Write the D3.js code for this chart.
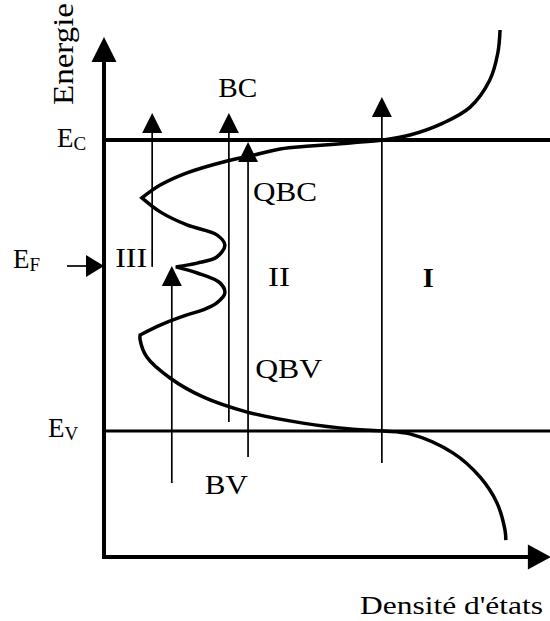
<!DOCTYPE html>
<html>
<head>
<meta charset="utf-8">
<script src="https://cdn.jsdelivr.net/npm/d3@7"></script>
<style>
    body { margin: 0; background: #fff; }
    text { font-family: "Liberation Serif", "Times New Roman", serif; fill: #000; }
</style>
</head>
<body>
<div id="diagram"></div>
<script>
// density of states, split at the sharp cusps: [density, energy] with Ev = 0, Ec = 1
const conductionBranch = [
    [88.8, 1.378], [88.3, 1.299], [86.5, 1.206], [82.1, 1.113], [76.0, 1.058],
    [68.6, 1.017], [62.6, 1.000], [55.2, 0.990], [46.2, 0.979], [39.5, 0.969],
    [32.7, 0.945], [27.6, 0.928], [18.6, 0.887], [12.6, 0.845], [8.5, 0.801]
];
const gapBranchUpper = [
    [8.5, 0.801], [12.6, 0.753], [18.6, 0.708], [25.3, 0.674], [27.1, 0.639],
    [25.3, 0.598], [20.9, 0.577], [16.1, 0.564]
];
const gapBranchLower = [
    [16.1, 0.564], [20.9, 0.543], [26.0, 0.509], [27.1, 0.474], [25.3, 0.440],
    [22.2, 0.416], [18.6, 0.399], [12.6, 0.364], [8.1, 0.330]
];
const valenceBranch = [
    [8.1, 0.330], [8.1, 0.313], [9.6, 0.254], [14.8, 0.182], [22.2, 0.117],
    [32.1, 0.065], [44.6, 0.027], [55.8, 0.006], [62.6, 0.000], [68.6, -0.010],
    [78.3, -0.076], [84.3, -0.158], [88.1, -0.247], [89.9, -0.340], [90.1, -0.375]
];

// energy levels
const levelNames = ['C', 'F', 'V'];
const levelEnergies = [1, 0.567, 0];

// vertical transition arrows: density, start energy, end energy
const arrowDensity = [10.8, 28.0, 32.3, 15.2, 62.3];
const arrowFrom = [0.564, 0.031, -0.089, -0.179, -0.110];
const arrowTo = [1.093, 1.093, 0.993, 0.567, 1.148];

// region / band labels
const bandLabels = ['BC', 'QBC', 'QBV', 'BV', 'III', 'II', 'I'];
const bandDensity = [25.6, 33.4, 33.9, 22.6, 2.5, 36.8, 71.5];
const bandEnergy = [1.148, 0.790, 0.182, -0.216, 0.564, 0.498, 0.495];

const axisTitles = { x: 'Densité d\'états', y: 'Energie' };

class DosDiagram {

    constructor(_config) {
        this.config = {
            parentElement: _config.parentElement,
            containerWidth: _config.containerWidth || 550,
            containerHeight: _config.containerHeight || 621
        };
        this.initVis();
    }

    initVis() {
        let vis = this;

        vis.svg = d3.select(vis.config.parentElement)
            .append('svg')
            .attr('width', vis.config.containerWidth)
            .attr('height', vis.config.containerHeight);

        vis.xScale = d3.scaleLinear().domain([0, 100]).range([104, 550]);
        vis.yScale = d3.scaleLinear().domain([0, 1]).range([431, 140]);

        vis.xMin = 0;
        vis.xMax = 100.2;
        vis.yMin = -0.433;
        vis.yMax = 1.354;

        vis.renderVis();
    }

    // triangle with its tip at (x, y), pointing up or right
    head(x, y, dir, len, half) {
        if (dir === 'up') return `${x},${y} ${x - half},${y + len} ${x + half},${y + len}`;
        return `${x},${y} ${x - len},${y - half} ${x - len},${y + half}`;
    }

    renderVis() {
        let vis = this;
        const x = vis.xScale, y = vis.yScale;

        // energy levels Ec and Ev
        vis.svg.selectAll('.level')
            .data([1, 0])
            .join('line')
            .attr('class', 'level')
            .attr('x1', x(vis.xMin))
            .attr('x2', x(100))
            .attr('y1', d => y(d))
            .attr('y2', d => y(d))
            .attr('stroke', '#000')
            .attr('stroke-width', d => d === 1 ? 4 : 3);

        // axes
        const corner = [x(vis.xMin), y(vis.yMin)];
        vis.svg.append('line')
            .attr('x1', corner[0]).attr('y1', corner[1])
            .attr('x2', corner[0]).attr('y2', y(vis.yMax) + 20)
            .attr('stroke', '#000').attr('stroke-width', 4).attr('stroke-linecap', 'square');
        vis.svg.append('polygon')
            .attr('points', vis.head(corner[0], y(vis.yMax), 'up', 25, 12.5));
        vis.svg.append('line')
            .attr('x1', corner[0]).attr('y1', corner[1])
            .attr('x2', x(vis.xMax) - 20).attr('y2', corner[1])
            .attr('stroke', '#000').attr('stroke-width', 4).attr('stroke-linecap', 'square');
        vis.svg.append('polygon')
            .attr('points', vis.head(x(vis.xMax), corner[1], 'right', 23, 12.5));

        // density of states curve
        const line = d3.line()
            .x(d => x(d[0]))
            .y(d => y(d[1]))
            .curve(d3.curveCatmullRom.alpha(0.5));
        const branches = [conductionBranch, gapBranchUpper, gapBranchLower, valenceBranch];
        const pathD = branches.map((b, i) => i === 0 ? line(b) : line(b).replace(/^M/, 'L')).join('');
        vis.svg.append('path')
            .attr('d', pathD)
            .attr('fill', 'none')
            .attr('stroke', '#000')
            .attr('stroke-width', 3.5)
            .attr('stroke-linejoin', 'miter');

        // vertical arrows
        const arrows = arrowDensity.map((d, i) => ({ d: d, from: arrowFrom[i], to: arrowTo[i] }));
        const arrowG = vis.svg.selectAll('.arrow')
            .data(arrows)
            .join('g')
            .attr('class', 'arrow');
        arrowG.append('line')
            .attr('x1', d => x(d.d)).attr('x2', d => x(d.d))
            .attr('y1', d => y(d.from)).attr('y2', d => y(d.to) + 10)
            .attr('stroke', '#000').attr('stroke-width', 1.7);
        arrowG.append('polygon')
            .attr('points', d => vis.head(x(d.d), y(d.to), 'up', 20, 10));

        // Fermi level marker
        const yF = y(levelEnergies[1]);
        vis.svg.append('line')
            .attr('x1', 67).attr('x2', corner[0] - 10)
            .attr('y1', yF).attr('y2', yF)
            .attr('stroke', '#000').attr('stroke-width', 1.7);
        vis.svg.append('polygon')
            .attr('points', vis.head(corner[0], yF, 'right', 18, 11));

        // level labels E_C, E_F, E_V
        const levelX = [57, 13, 48];
        const levelDy = [7, 2, 6];
        levelNames.forEach((n, i) => {
            const t = vis.svg.append('text')
                .attr('x', levelX[i])
                .attr('y', y(levelEnergies[i]) + levelDy[i])
                .style('font-size', '27px');
            t.append('tspan').text('E');
            t.append('tspan').attr('dy', 3).style('font-size', '19px').text(n);
        });

        // band / region labels
        const labelWidths = [39, 64, 67, 43, 32, 22, 11];
        vis.svg.selectAll('.band-label')
            .data(bandLabels)
            .join('text')
            .attr('class', 'band-label')
            .attr('x', (d, i) => x(bandDensity[i]))
            .attr('y', (d, i) => y(bandEnergy[i]))
            .attr('textLength', (d, i) => labelWidths[i])
            .attr('lengthAdjust', 'spacingAndGlyphs')
            .style('font-size', '27px')
            .style('font-weight', d => d === 'I' ? 'bold' : 'normal')
            .text(d => d);

        // axis titles
        vis.svg.append('text')
            .attr('x', 360)
            .attr('y', 614)
            .attr('textLength', 183)
            .attr('lengthAdjust', 'spacingAndGlyphs')
            .style('font-size', '25px')
            .text(axisTitles.x);

        vis.svg.append('text')
            .attr('transform', 'translate(73,105) rotate(-90)')
            .attr('textLength', 102)
            .attr('lengthAdjust', 'spacingAndGlyphs')
            .style('font-size', '29px')
            .text(axisTitles.y);
    }
}

new DosDiagram({ parentElement: '#diagram' });
</script>
</body>
</html>
